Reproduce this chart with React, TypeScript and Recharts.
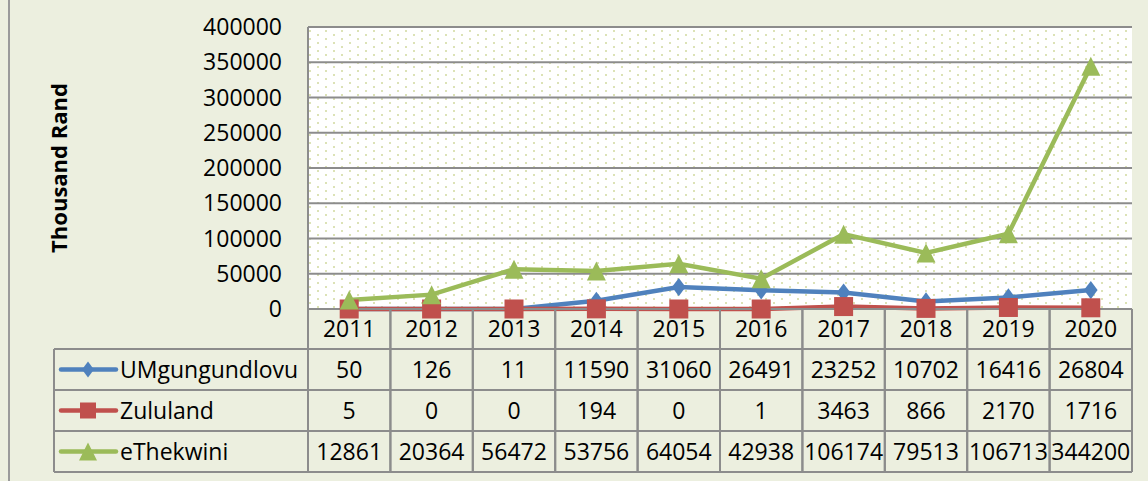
import React from 'react';
import {
  LineChart,
  Line,
  XAxis,
  YAxis,
  CartesianGrid,
  Label,
} from 'recharts';

const years = ['2011', '2012', '2013', '2014', '2015', '2016', '2017', '2018', '2019', '2020'];
const umgungundlovu = [50, 126, 11, 11590, 31060, 26491, 23252, 10702, 16416, 26804];
const zululand = [5, 0, 0, 194, 0, 1, 3463, 866, 2170, 1716];
const ethekwini = [12861, 20364, 56472, 53756, 64054, 42938, 106174, 79513, 106713, 344200];
const yTicks = [0, 50000, 100000, 150000, 200000, 250000, 300000, 350000, 400000];

const seriesList = [
  { key: 'umg', name: 'UMgungundlovu', color: '#4F81BD', values: umgungundlovu, shape: 'diamond' },
  { key: 'zul', name: 'Zululand', color: '#C0504D', values: zululand, shape: 'square' },
  { key: 'eth', name: 'eThekwini', color: '#9BBB59', values: ethekwini, shape: 'triangle' },
];

const data = years.map((year, i) => ({
  year,
  umg: umgungundlovu[i],
  zul: zululand[i],
  eth: ethekwini[i],
}));

// layout
const W = 1148;
const H = 481;
const Y_AXIS_W = 308;
const RIGHT = 16;
const TOP = 27;
const X_AXIS_H = 172;
const COL = (W - Y_AXIS_W - RIGHT) / years.length;
const HEAD_H = 40;
const ROW_H = 41;
const TABLE_LEFT = 54;
const FONT = '"Open Sans", sans-serif';
const GRID = '#8C8C8C';
const BG = '#ECEFDF';

function Marker({ shape, cx, cy, color, size }: any) {
  const s = size / 2;
  if (shape === 'diamond') {
    return <polygon points={`${cx},${cy - s * 1.15} ${cx + s * 0.85},${cy} ${cx},${cy + s * 1.15} ${cx - s * 0.85},${cy}`} fill={color} />;
  }
  if (shape === 'square') {
    return <rect x={cx - s} y={cy - s} width={size} height={size} fill={color} />;
  }
  return <polygon points={`${cx},${cy - s} ${cx + s},${cy + s} ${cx - s},${cy + s}`} fill={color} />;
}

const makeDot = (shape: string, color: string, size: number) => (props: any) => {
  const { cx, cy, index } = props;
  if (cx == null || cy == null) return <g key={index} />;
  return (
    <g key={index}>
      <Marker shape={shape} cx={cx} cy={cy} color={color} size={size} />
    </g>
  );
};

const legendSize: Record<string, number> = { diamond: 14, square: 16, triangle: 18 };

// each x tick draws one column of the data table
function TableTick(props: any) {
  const { x, y, index, payload } = props;
  const left = x - COL / 2;
  const right = x + COL / 2;
  const bottom = y + HEAD_H + ROW_H * seriesList.length;
  const textStyle = { fontFamily: FONT, fontSize: 23, fill: '#000' };
  return (
    <g>
      <line x1={left} y1={y} x2={left} y2={bottom} stroke={GRID} strokeWidth={2} />
      <line x1={right} y1={y} x2={right} y2={bottom} stroke={GRID} strokeWidth={2} />
      <text x={x} y={y + HEAD_H / 2} dy="0.36em" textAnchor="middle" style={textStyle}>
        {payload.value}
      </text>
      {seriesList.map((s, r) => (
        <text
          key={s.key}
          x={x}
          y={y + HEAD_H + ROW_H * r + ROW_H / 2}
          dy="0.36em"
          textAnchor="middle"
          style={textStyle}
        >
          {s.values[index]}
        </text>
      ))}
      {index === 0 && (
        <g>
          <line x1={TABLE_LEFT} y1={y + HEAD_H} x2={TABLE_LEFT} y2={bottom} stroke={GRID} strokeWidth={2} />
          {[0, 1, 2, 3].map((r) => (
            <line
              key={r}
              x1={TABLE_LEFT}
              y1={y + HEAD_H + ROW_H * r}
              x2={left + COL * years.length}
              y2={y + HEAD_H + ROW_H * r}
              stroke={GRID}
              strokeWidth={2}
            />
          ))}
          {seriesList.map((s, r) => {
            const cy = y + HEAD_H + ROW_H * r + ROW_H / 2;
            return (
              <g key={s.key}>
                <line x1={61} y1={cy} x2={116} y2={cy} stroke={s.color} strokeWidth={4.5} strokeLinecap="round" />
                <Marker shape={s.shape} cx={88} cy={cy} color={s.color} size={legendSize[s.shape]} />
                <text x={120} y={cy} dy="0.36em" style={textStyle}>
                  {s.name}
                </text>
              </g>
            );
          })}
        </g>
      )}
    </g>
  );
}

export default function App() {
  return (
    <div style={{ position: 'absolute', left: 0, top: 0, width: W, height: H, background: BG }}>
      <div style={{ position: 'absolute', left: 8, top: 0, width: 2, height: H, background: '#9A9A9A' }} />
      <LineChart
        width={W}
        height={H}
        data={data}
        margin={{ top: TOP, right: RIGHT, left: 0, bottom: 0 }}
      >
        <defs>
          <pattern id="dots" width={16} height={8} patternUnits="userSpaceOnUse">
            <rect width={16} height={8} fill="#FFFFFF" />
            <rect x={5} y={6} width={2} height={2} fill="#DCE2B6" />
            <rect x={13} y={2} width={2} height={2} fill="#DCE2B6" />
          </pattern>
        </defs>
        <CartesianGrid vertical={false} stroke={GRID} strokeWidth={2} fill="url(#dots)" fillOpacity={1} />
        <XAxis
          dataKey="year"
          height={X_AXIS_H}
          padding={{ left: COL / 2, right: COL / 2 }}
          tickSize={0}
          tickMargin={0}
          axisLine={{ stroke: GRID, strokeWidth: 2 }}
          tickLine={false}
          interval={0}
          tick={<TableTick />}
        />
        <YAxis
          width={Y_AXIS_W}
          domain={[0, 400000]}
          ticks={yTicks}
          interval={0}
          tickSize={0}
          tickMargin={26}
          tickLine={false}
          axisLine={{ stroke: GRID, strokeWidth: 2 }}
          tick={{ fontFamily: FONT, fontSize: 23, fill: '#000' }}
        >
          <Label
            value="Thousand Rand"
            angle={-90}
            position="insideLeft"
            offset={59}
            style={{ fontFamily: FONT, fontSize: 22, fontWeight: 700, fill: '#000', textAnchor: 'middle' }}
          />
        </YAxis>
        {seriesList.map((s) => (
          <Line
            key={s.key}
            dataKey={s.key}
            name={s.name}
            stroke={s.color}
            strokeWidth={4.5}
            type="linear"
            dot={makeDot(s.shape, s.color, s.shape === 'diamond' ? 16 : 19)}
            activeDot={false}
            isAnimationActive={false}
          />
        ))}
      </LineChart>
    </div>
  );
}
